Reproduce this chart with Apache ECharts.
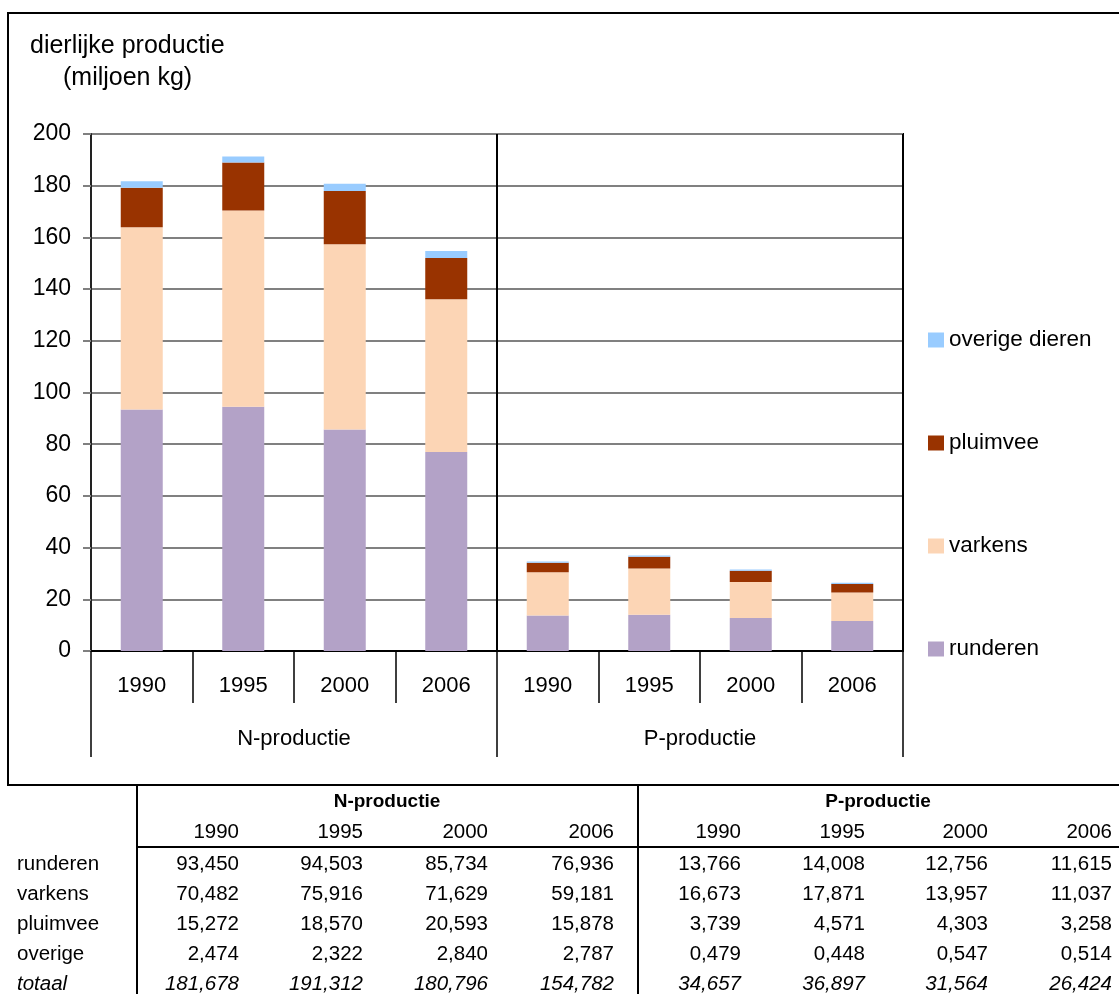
<!DOCTYPE html>
<html>
<head>
<meta charset="utf-8">
<script src="https://cdn.jsdelivr.net/npm/echarts@6/dist/echarts.min.js"></script>
<style>
    html, body { margin: 0; padding: 0; background: #fff; }
    #chart { width: 1119px; height: 994px; }
</style>
</head>
<body>
<div id="chart"></div>
<script>
    // categorieen
    var years = ['1990', '1995', '2000', '2006'];
    var groups = ['N-productie', 'P-productie'];
    var categories = years.concat(years);

    // miljoen kg (N 1990..2006, P 1990..2006)
    var runderen = [93.450, 94.503, 85.734, 76.936, 13.766, 14.008, 12.756, 11.615];
    var varkens = [70.482, 75.916, 71.629, 59.181, 16.673, 17.871, 13.957, 11.037];
    var pluimvee = [15.272, 18.570, 20.593, 15.878, 3.739, 4.571, 4.303, 3.258];
    var overige = [2.474, 2.322, 2.840, 2.787, 0.479, 0.448, 0.547, 0.514];
    var totaal = [181.678, 191.312, 180.796, 154.782, 34.657, 36.897, 31.564, 26.424];

    var rowNames = ['runderen', 'varkens', 'pluimvee', 'overige', 'totaal'];
    var rows = [runderen, varkens, pluimvee, overige, totaal];

    var FONT = 'Liberation Sans, Arial, sans-serif';

    function fmt(v) {
        return v.toFixed(3).replace('.', ',');
    }

    function txt(s, x, y, size, align, extra) {
        var st = {
            text: s, x: x, y: y, fill: '#000',
            font: (extra || '') + ' ' + size + 'px ' + FONT,
            textAlign: align, align: align,
            textVerticalAlign: 'middle', verticalAlign: 'middle'
        };
        return {type: 'text', silent: true, style: st};
    }

    function line(x1, y1, x2, y2, w) {
        return {type: 'line', silent: true, shape: {x1: x1, y1: y1, x2: x2, y2: y2},
            style: {stroke: '#000', lineWidth: w || 2}};
    }

    // graphic: kader, titel en tabel
    var g = [];
    g.push({type: 'rect', silent: true, shape: {x: 8, y: 13, width: 1130, height: 772},
        style: {fill: 'none', stroke: '#000', lineWidth: 2}});
    g.push(txt('dierlijke productie', 30, 46, 25, 'left'));
    g.push(txt('(miljoen kg)', 63, 78, 25, 'left'));

    g.push(line(137, 785, 137, 994));
    g.push(line(638, 785, 638, 994));
    g.push(line(137, 847, 1119, 847));

    var colRight = [239, 363, 488, 614, 741, 865, 988, 1112];
    g.push(txt(groups[0], 387, 802, 19, 'center', 'bold'));
    g.push(txt(groups[1], 878, 802, 19, 'center', 'bold'));
    for (var c = 0; c < categories.length; c++) {
        g.push(txt(categories[c], colRight[c], 832, 20.5, 'right'));
    }
    for (var r = 0; r < rows.length; r++) {
        var y = 864 + r * 30;
        var ital = r === rows.length - 1 ? 'italic' : '';
        g.push(txt(rowNames[r], 17, y, 20.5, 'left', ital));
        for (var k = 0; k < rows[r].length; k++) {
            g.push(txt(fmt(rows[r][k]), colRight[k], y, 20.5, 'right', ital));
        }
    }

    var myChart = echarts.init(document.getElementById('chart'));
    var options = {
        animation: false,
        backgroundColor: '#fff',
        textStyle: {fontFamily: FONT},
        grid: {
            left: 91,
            right: 216,
            top: 134,
            bottom: 343,
            show: true,
            borderColor: '#000',
            borderWidth: 2
        },
        legend: {
            orient: 'vertical',
            left: 923,
            top: 323,
            itemWidth: 16,
            itemHeight: 15,
            itemGap: 79,
            icon: 'rect',
            selectedMode: false,
            textStyle: {fontSize: 22.5, lineHeight: 24, color: '#000', fontFamily: FONT},
            data: ['overige dieren', 'pluimvee', 'varkens', 'runderen']
        },
        xAxis: [{
            type: 'category',
            data: categories,
            position: 'bottom',
            axisLine: {lineStyle: {color: '#000', width: 2}},
            axisTick: {show: true, length: 52, interval: 0, lineStyle: {color: '#000', width: 1.5}},
            axisLabel: {margin: 24, fontSize: 22, color: '#000', interval: 0, fontFamily: FONT}
        }, {
            type: 'category',
            data: groups,
            position: 'bottom',
            offset: 52,
            axisLine: {show: false},
            axisTick: {show: true, length: 54, interval: 0, lineStyle: {color: '#000', width: 1.5}},
            axisLabel: {margin: 25, fontSize: 22, color: '#000', interval: 0, fontFamily: FONT},
            splitLine: {show: true, interval: 0, lineStyle: {color: '#000', width: 2}}
        }],
        yAxis: {
            type: 'value',
            min: 0,
            max: 200,
            interval: 20,
            axisLine: {show: true, lineStyle: {color: '#222', width: 2}},
            axisTick: {show: true, length: 8, lineStyle: {color: '#808080', width: 2}},
            axisLabel: {margin: 20, fontSize: 23, color: '#000', fontFamily: FONT},
            splitLine: {lineStyle: {color: '#808080', width: 2}}
        },
        series: [
            {name: 'runderen', type: 'bar', stack: 'tot', barWidth: 42, itemStyle: {color: '#B3A2C7'}, data: runderen},
            {name: 'varkens', type: 'bar', stack: 'tot', barWidth: 42, itemStyle: {color: '#FCD5B5'}, data: varkens},
            {name: 'pluimvee', type: 'bar', stack: 'tot', barWidth: 42, itemStyle: {color: '#993300'}, data: pluimvee},
            {name: 'overige dieren', type: 'bar', stack: 'tot', barWidth: 42, itemStyle: {color: '#99CCFF'}, data: overige}
        ],
        graphic: g
    };
    myChart.setOption(options);
</script>
</body>
</html>
